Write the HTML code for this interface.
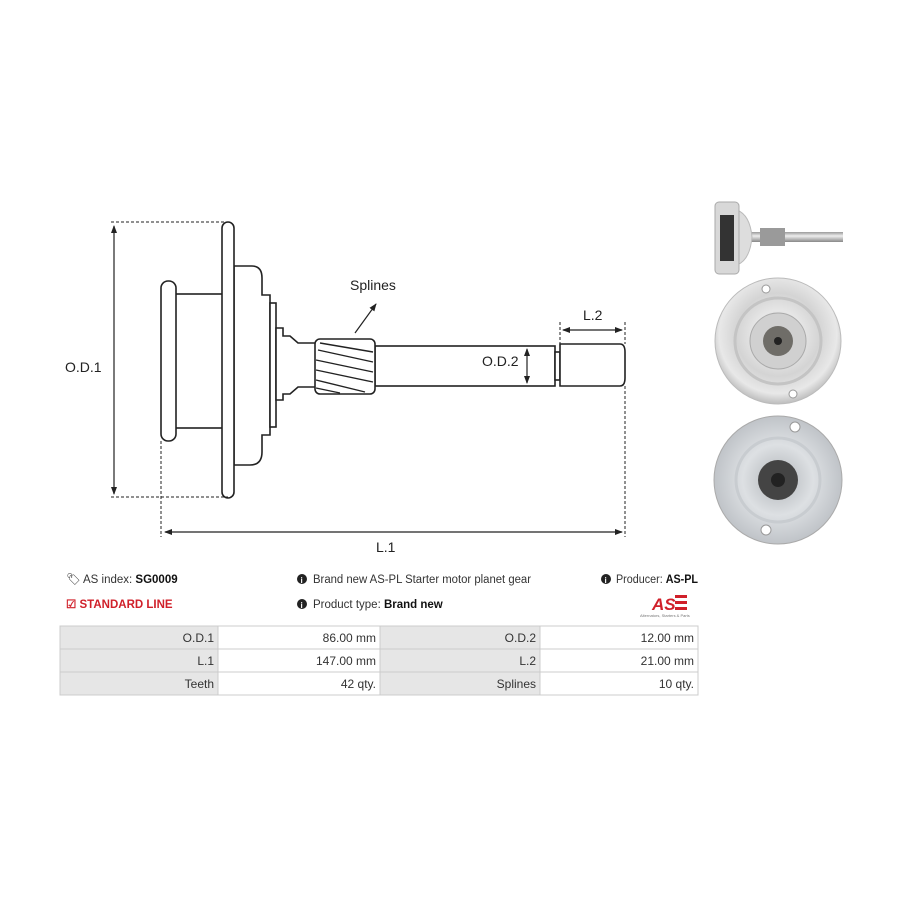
<!DOCTYPE html>
<html><head><meta charset="utf-8"><style>
body{margin:0;background:#fff;width:900px;height:900px;overflow:hidden;font-family:"Liberation Sans",sans-serif;}
svg{position:absolute;left:0;top:0}
</style></head><body>
<svg width="900" height="900" viewBox="0 0 900 900" xmlns="http://www.w3.org/2000/svg">
<defs>
<marker id="a" markerWidth="8" markerHeight="8" refX="7" refY="4" orient="auto-start-reverse" markerUnits="userSpaceOnUse"><path d="M0,1 L8,4 L0,7 z" fill="#222"/></marker>
<radialGradient id="g1" cx="50%" cy="45%" r="55%"><stop offset="0" stop-color="#c8c8c8"/><stop offset="0.35" stop-color="#e6e6e6"/><stop offset="0.6" stop-color="#d4d4d4"/><stop offset="0.85" stop-color="#e8e8e8"/><stop offset="1" stop-color="#bdbdbd"/></radialGradient>
<radialGradient id="g2" cx="50%" cy="50%" r="55%"><stop offset="0" stop-color="#b0b4b8"/><stop offset="0.5" stop-color="#dde0e3"/><stop offset="1" stop-color="#b9bdc2"/></radialGradient>
<linearGradient id="sh" x1="0" y1="0" x2="0" y2="1"><stop offset="0" stop-color="#999"/><stop offset="0.4" stop-color="#eee"/><stop offset="1" stop-color="#888"/></linearGradient>
</defs>
<g fill="#fff" stroke="#222" stroke-width="1.6">
<rect x="174" y="294" width="50" height="134"/>
<rect x="161" y="281" width="15" height="160" rx="7"/>
<path d="M234,266 H252 Q262,266 262,278 V295 H270 V435 H262 V452 Q262,465 250,465 H234 Z"/>
<rect x="222" y="222" width="12" height="276" rx="6"/>
<rect x="270" y="303" width="6" height="124"/>
<path d="M276,328 H283 V336 H290 L298,343 H317 V387 H298 L290,394 H283 V400 H276 Z"/>
<rect x="375" y="346" width="180" height="40"/>
<rect x="555" y="352" width="5" height="28"/>
<path d="M560,344 H620 Q625,344 625,352 V378 Q625,386 620,386 H560 Z"/>
<rect x="315" y="339" width="60" height="55" rx="5"/>
</g>
<g stroke="#222" stroke-width="1.4" fill="none">
<path d="M318,350 L373,362 M316,360 L373,372 M316,370 L373,382 M316,380 L365,392 M320,343 L373,352 M316,388 L340,393"/>
</g>
<g stroke="#222" stroke-width="1" fill="none" stroke-dasharray="3,2">
<path d="M111,222 H228 M111,497 H228 M161,441 V537 M625,386 V537 M560,322 V344 M625,322 V344"/>
</g>
<g stroke="#222" stroke-width="1.2" fill="none">
<line x1="114" y1="226" x2="114" y2="494" marker-start="url(#a)" marker-end="url(#a)"/>
<line x1="165" y1="532" x2="622" y2="532" marker-start="url(#a)" marker-end="url(#a)"/>
<line x1="563" y1="330" x2="622" y2="330" marker-start="url(#a)" marker-end="url(#a)"/>
<line x1="527" y1="349" x2="527" y2="383" marker-start="url(#a)" marker-end="url(#a)"/>
<line x1="355" y1="333" x2="376" y2="304" marker-end="url(#a)"/>
</g>
<g font-family="Liberation Sans,sans-serif" font-size="14" fill="#222">
<text x="65" y="372">O.D.1</text>
<text x="482" y="366">O.D.2</text>
<text x="350" y="290">Splines</text>
<text x="583" y="320">L.2</text>
<text x="376" y="552">L.1</text>
</g>
<g>
<rect x="750" y="232" width="93" height="10" fill="url(#sh)"/>
<rect x="760" y="228" width="25" height="18" fill="#9a9a9a"/>
<path d="M737,210 Q750,215 752,237 Q750,260 737,265 Z" fill="#ddd" stroke="#bbb"/>
<rect x="715" y="202" width="24" height="72" rx="4" fill="#d8d8d8" stroke="#aaa"/>
<rect x="720" y="215" width="14" height="46" fill="#333"/>
<circle cx="778" cy="341" r="63" fill="url(#g1)" stroke="#bbb"/>
<circle cx="778" cy="341" r="43" fill="none" stroke="#c4c4c4" stroke-width="3"/>
<circle cx="778" cy="341" r="28" fill="#d0d0d0" stroke="#aaa"/>
<circle cx="778" cy="341" r="15" fill="#6f6d68"/>
<circle cx="778" cy="341" r="4" fill="#222"/>
<circle cx="766" cy="289" r="4" fill="#fff" stroke="#999"/>
<circle cx="793" cy="394" r="4" fill="#fff" stroke="#999"/>
<circle cx="778" cy="480" r="64" fill="url(#g2)" stroke="#aaa"/>
<circle cx="778" cy="480" r="42" fill="none" stroke="#c8ccd0" stroke-width="3"/>
<circle cx="778" cy="480" r="20" fill="#444"/>
<circle cx="778" cy="480" r="7" fill="#222"/>
<circle cx="795" cy="427" r="5" fill="#fff" stroke="#999"/>
<circle cx="766" cy="530" r="5" fill="#fff" stroke="#999"/>
</g>
<g font-family="Liberation Sans,sans-serif" font-size="11.5" fill="#333">
<text x="66" y="583">&#x1F3F7;&#xFE0E;</text>
<text x="83" y="583">AS index: <tspan font-weight="bold" fill="#111">SG0009</tspan></text>
<text x="66" y="608" fill="#d0202a" font-weight="bold">&#x2611; STANDARD LINE</text>
<circle cx="302" cy="579" r="5" fill="#222"/><text x="300.5" y="583" font-size="8" fill="#fff" font-weight="bold">i</text>
<text x="313" y="583" textLength="218" lengthAdjust="spacingAndGlyphs">Brand new AS-PL Starter motor planet gear</text>
<circle cx="302" cy="604" r="5" fill="#222"/><text x="300.5" y="608" font-size="8" fill="#fff" font-weight="bold">i</text>
<text x="313" y="608">Product type: <tspan font-weight="bold" fill="#111">Brand new</tspan></text>
<circle cx="606" cy="579" r="5" fill="#222"/><text x="604.5" y="583" font-size="8" fill="#fff" font-weight="bold">i</text>
<text x="616" y="583" textLength="82" lengthAdjust="spacingAndGlyphs">Producer: <tspan font-weight="bold" fill="#111">AS-PL</tspan></text>
<text x="652" y="610" font-size="17" font-weight="bold" font-style="italic" fill="#d0202a">AS</text>
<rect x="675" y="595" width="12" height="3" fill="#d0202a"/><rect x="675" y="601" width="12" height="3" fill="#d0202a"/><rect x="675" y="607" width="12" height="3" fill="#d0202a"/>
<text x="640" y="617" font-size="4" fill="#777">Alternators, Starters &amp; Parts</text>
</g>
<g stroke="#ccc" stroke-width="1">
<rect x="60" y="626" width="158" height="69" fill="#e6e6e6"/>
<rect x="218" y="626" width="162" height="69" fill="#fff"/>
<rect x="380" y="626" width="160" height="69" fill="#e6e6e6"/>
<rect x="540" y="626" width="158" height="69" fill="#fff"/>
<line x1="60" y1="649" x2="698" y2="649"/><line x1="60" y1="672" x2="698" y2="672"/>
</g>
<g font-family="Liberation Sans,sans-serif" font-size="12" fill="#333" text-anchor="end">
<text x="214" y="642">O.D.1</text><text x="376" y="642">86.00 mm</text><text x="536" y="642">O.D.2</text><text x="694" y="642">12.00 mm</text>
<text x="214" y="665">L.1</text><text x="376" y="665">147.00 mm</text><text x="536" y="665">L.2</text><text x="694" y="665">21.00 mm</text>
<text x="214" y="688">Teeth</text><text x="376" y="688">42 qty.</text><text x="536" y="688">Splines</text><text x="694" y="688">10 qty.</text>
</g>
</svg>
</body></html>
